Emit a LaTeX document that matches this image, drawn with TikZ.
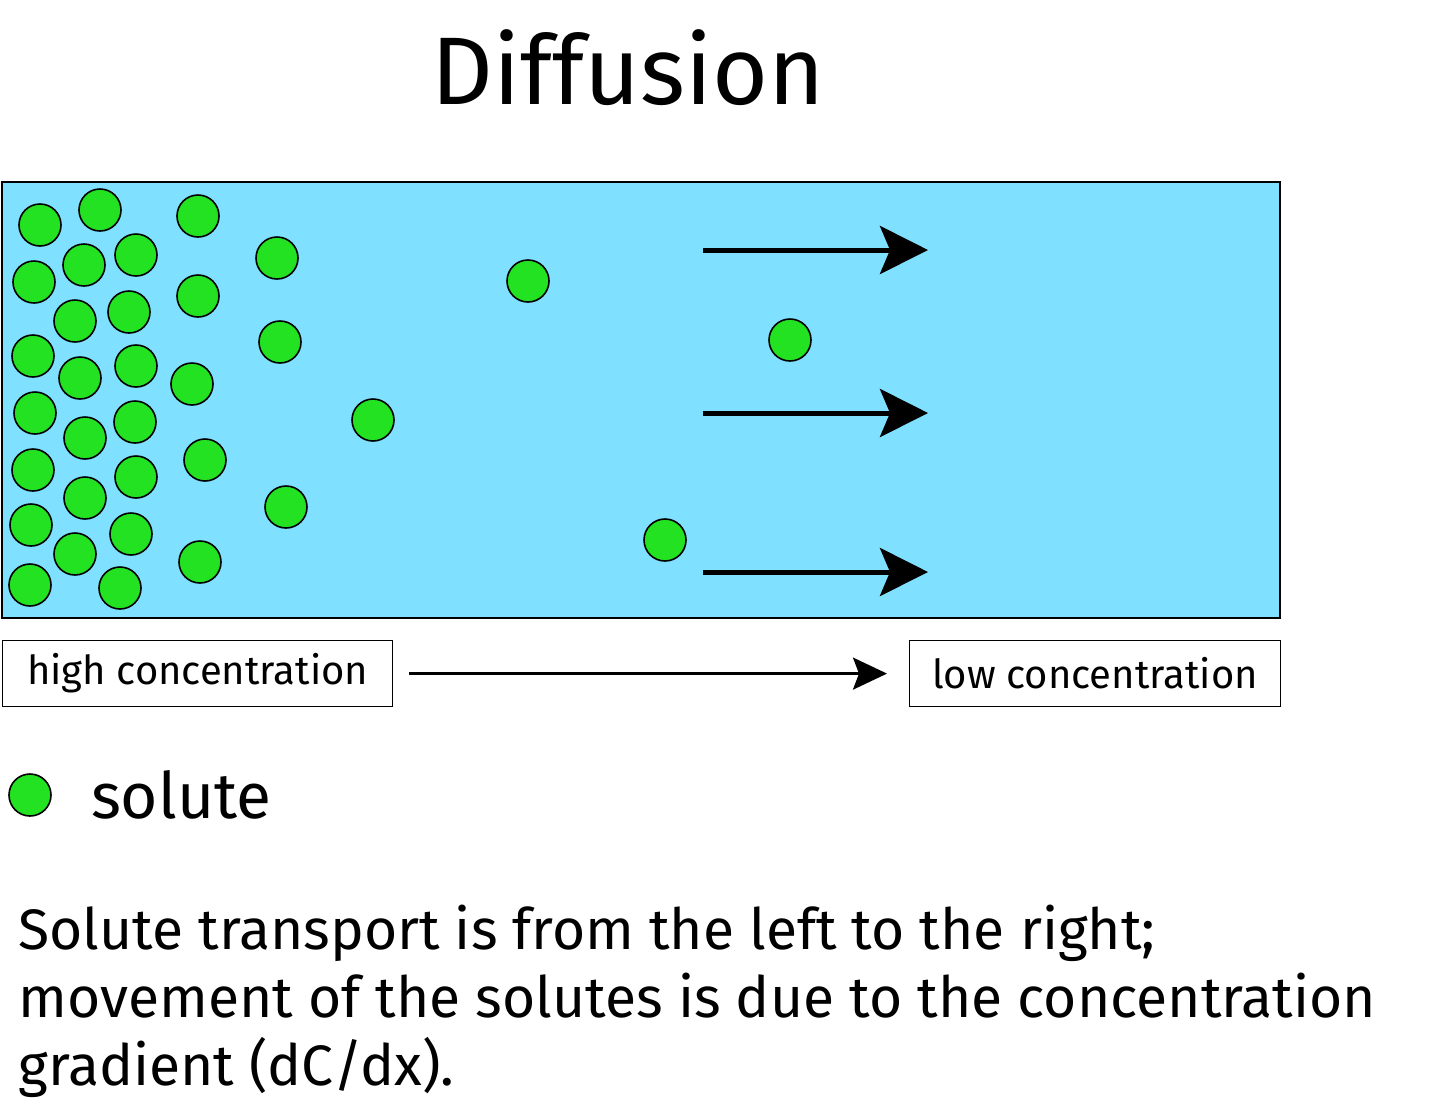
\documentclass[tikz,border=0pt]{standalone}
\usepackage{fontspec}
\setmainfont{Fira Sans}
\usetikzlibrary{arrows.meta,calc}
\definecolor{water}{RGB}{128,224,255}
\definecolor{solg}{RGB}{34,226,34}
\begin{document}
\begin{tikzpicture}[x=0.5pt,y=-0.5pt,
  sol/.style={circle,draw=black,line width=0.8pt,fill=solg,minimum size=21pt,inner sep=0pt},
  big/.style={line width=2.5pt,-{Stealth[length=24pt,width=24pt,inset=5pt]}},
  lab/.style={draw=black,line width=0.6pt,fill=white,inner sep=0pt,anchor=north west}]
\useasboundingbox[clip] (0,0) rectangle (1440,1105);
\fill[white] (0,0) rectangle (1440,1105);
\node (title) at (628,68) {\fontsize{48}{56}\selectfont Diffusion};
\draw[line width=1pt,fill=water] (2,182) rectangle (1280,618);
\foreach \x/\y [count=\i] in {40/225,100/210,198/216,84/265,136/255,34/282,277/258,528/281,198/296,75/321,129/312,280/342,790/340,33/356,80/378,136/366,192/384,35/413,85/438,135/422,373/420,205/460,33/470,85/498,136/477,286/507,31/525,75/554,131/534,200/562,665/540,30/585,120/588}
  \node[sol] (s\i) at (\x,\y) {};
\foreach \y/\n in {250/a,413/b,572/c}{
  \coordinate (\n1) at (703,\y); \coordinate (\n2) at (928,\y);
  \draw[big] (\n1) -- (\n2);}
\node[lab,minimum width=195pt,minimum height=33pt] (hi) at (2,640) {};
\node[font=\fontsize{20}{22}\selectfont] at (hi.center) {high concentration};
\node[lab,minimum width=185.5pt,minimum height=33pt] (lo) at (909,640) {};
\node[font=\fontsize{20}{22}\selectfont] at (lo.center) {low concentration};
\coordinate (g1) at ($(hi.east)+(16,0)$);
\coordinate (g2) at ($(lo.west)+(-22,0)$);
\draw[line width=1.3pt,-{Stealth[length=17pt,width=16pt,inset=3pt]}] (g1) -- (g2);
\node[sol] (leg) at (30,795) {};
\node[anchor=west,font=\fontsize{32}{36}\selectfont] (soltxt) at (84,795) {solute};
\node[anchor=north west,align=left,font=\fontsize{28.5}{34}\selectfont,inner sep=0pt] (txt) at (18,905)
{Solute transport is from the left to the right;\\movement of the solutes is due to the concentration\\gradient (dC/dx).};
\end{tikzpicture}
\end{document}
